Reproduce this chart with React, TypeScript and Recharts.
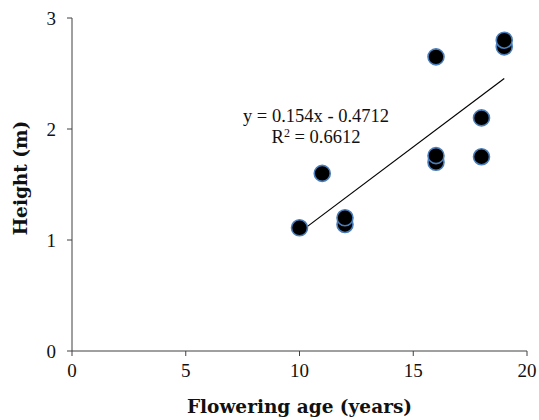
import React from "react";
import { ScatterChart, Scatter, XAxis, YAxis } from "recharts";

const ages = [10, 11, 12, 12, 16, 16, 16, 18, 18, 19, 19];
const heights = [1.11, 1.6, 1.14, 1.2, 1.7, 1.76, 2.65, 1.75, 2.1, 2.74, 2.8];
const xTicks = [0, 5, 10, 15, 20];
const yTicks = [0, 1, 2, 3];
const slope = 0.154;
const intercept = -0.4712;
const rSquared = "0.6612";

const points = ages.map((x, i) => ({ x, y: heights[i] }));
const trendX = [Math.min(...ages), Math.max(...ages)];
const trend = trendX.map((x) => ({ x, y: slope * x + intercept }));

const SERIF = "'Liberation Serif', 'DejaVu Serif', serif";
const TITLE_FONT = "'DejaVu Serif', serif";

function Dot(props: any) {
  const { cx, cy } = props;
  if (cx == null || cy == null) return null;
  return <circle cx={cx} cy={cy} r={8} fill="#000" stroke="#4a7ebb" strokeWidth={1.6} />;
}

const tickStyle = { fontFamily: SERIF, fontSize: 19, fill: "#111" };
const titleStyle = { fontFamily: TITLE_FONT, fontSize: 18.5, fontWeight: 700, fill: "#111" };

// y title sits a little above the plot's middle in the reference
const YTitle = () => (
  <text x={20} y={178} transform="rotate(-90 20 178)" textAnchor="middle" dominantBaseline="central" style={titleStyle}>
    Height (m)
  </text>
);

export default function App() {
  return (
    <div style={{ position: "absolute", left: 0, top: 0, width: 539, height: 420, background: "#fff" }}>
      <ScatterChart width={539} height={420} margin={{ top: 18, right: 12, bottom: 0, left: 0 }}>
        <XAxis
          type="number"
          dataKey="x"
          domain={[0, 20]}
          ticks={xTicks}
          height={69}
          tickSize={5}
          tickMargin={8}
          stroke="#404040"
          tick={tickStyle}
          label={{
            value: "Flowering age (years)",
            position: "insideBottom",
            offset: 7,
            style: titleStyle,
          }}
        />
        <YAxis
          type="number"
          dataKey="y"
          domain={[0, 3]}
          ticks={yTicks}
          width={72}
          tickSize={5}
          tickMargin={11}
          stroke="#404040"
          tick={tickStyle}
          label={<YTitle />}
        />
        <Scatter data={trend} line={{ stroke: "#000", strokeWidth: 1.2 }} shape={() => null} isAnimationActive={false} />
        <Scatter data={points} shape={<Dot />} isAnimationActive={false} />
      </ScatterChart>
      <div
        style={{
          position: "absolute",
          left: 216,
          top: 106,
          width: 200,
          textAlign: "center",
          fontFamily: SERIF,
          fontSize: 18.5,
          lineHeight: "21px",
          color: "#111",
        }}
      >
        <div>
          y = {slope}x - {Math.abs(intercept)}
        </div>
        <div>
          R<sup style={{ fontSize: 12, verticalAlign: "6px", lineHeight: 0 }}>2</sup> = {rSquared}
        </div>
      </div>
    </div>
  );
}
